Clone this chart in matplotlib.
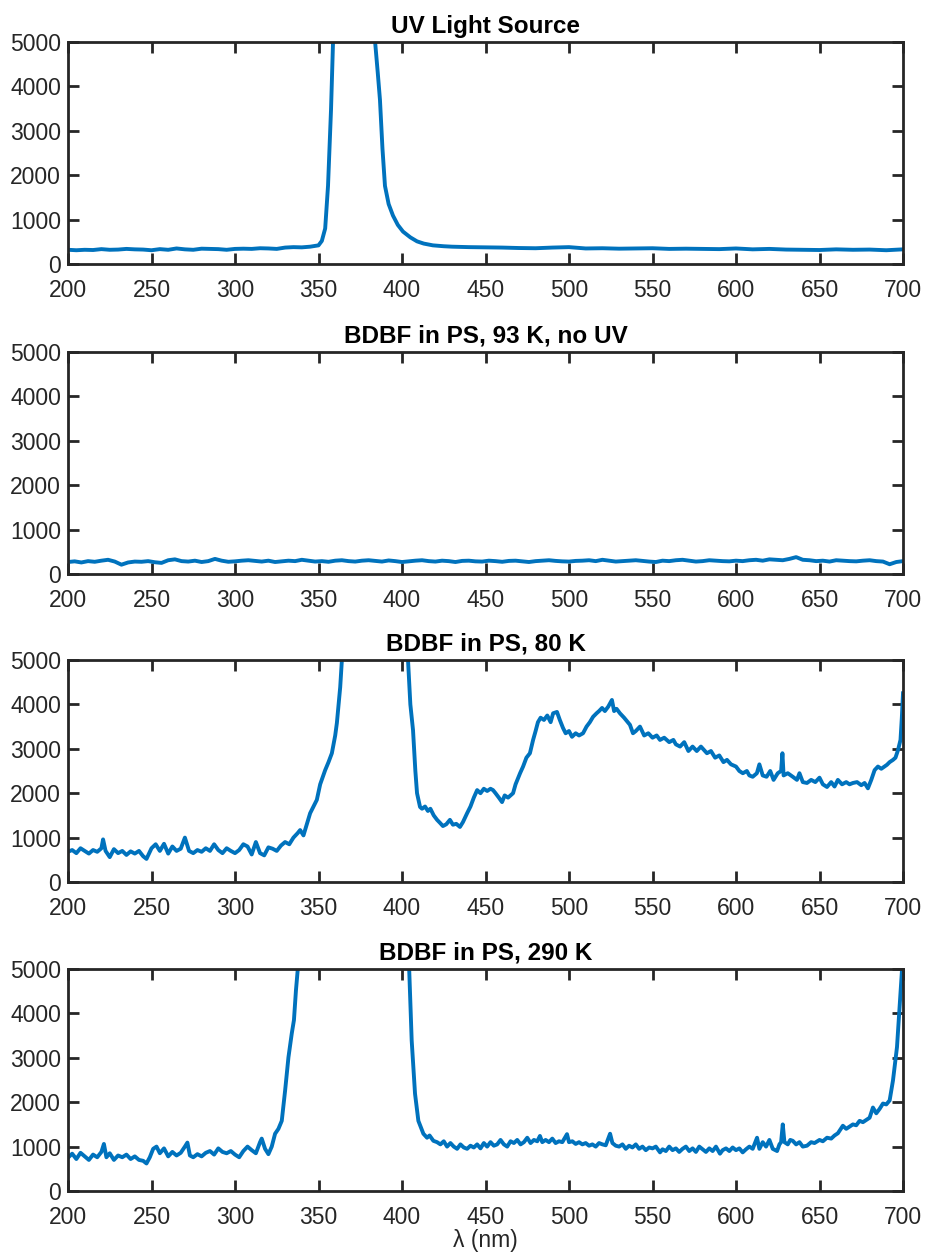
import numpy as np
import matplotlib
matplotlib.use("Agg")
import matplotlib.pyplot as plt

plt.rcParams["font.family"] = ["Liberation Sans", "DejaVu Sans"]

LINE = "#0072BD"
INK = "#262626"

TITLES = [
    "UV Light Source",
    "BDBF in PS, 93 K, no UV",
    "BDBF in PS, 80 K",
    "BDBF in PS, 290 K",
]
X_TICKS = list(range(200, 701, 50))
Y_TICKS = list(range(0, 5001, 1000))

# UV source spectrum, (wavelength nm, counts)
uv_source = [
    (200, 320), (205, 310), (210, 320), (215, 315), (220, 335), (225, 320),
    (230, 325), (235, 340), (240, 330), (245, 325), (250, 310), (255, 335),
    (260, 320), (265, 350), (270, 330), (275, 320), (280, 345), (285, 340),
    (290, 335), (295, 320), (300, 340), (305, 345), (310, 340), (315, 355),
    (320, 350), (325, 340), (330, 370), (335, 380), (340, 375), (345, 390),
    (350, 420), (352, 520), (354, 800), (355.7, 1760), (357.5, 3480),
    (358.7, 5000), (362, 7000), (370, 9000), (378, 8000), (383.9, 5000),
    (385.5, 4300), (386.8, 3700), (388.3, 2600), (389.8, 1760), (392, 1350),
    (394.6, 1090), (397.5, 880), (400.6, 730), (405, 600),
    (409, 510), (413, 460), (418.5, 420), (425, 400), (430, 390), (440, 380),
    (450, 375), (460, 370), (470, 360), (480, 355), (490, 370), (500, 380),
    (510, 350), (520, 355), (530, 345), (540, 350), (550, 355), (560, 340),
    (570, 345), (580, 340), (590, 335), (600, 350), (610, 330), (620, 340),
    (630, 325), (640, 320), (650, 315), (660, 330), (670, 320), (680, 325),
    (690, 310), (700, 330),
]

# 93 K, no UV: evenly spaced samples from 200 to 700 nm
no_uv_counts = [
    270, 285, 260, 290, 275, 300, 320, 280, 210, 260, 280, 275, 290,
    265, 250, 310, 330, 290, 280, 300, 270, 290, 340, 300, 275, 285,
    300, 310, 295, 280, 300, 270, 285, 300, 290, 320, 300, 280, 290,
    275, 300, 310, 290, 280, 300, 310, 295, 280, 305, 290, 270,
    285, 300, 310, 290, 280, 300, 290, 270, 295, 300, 285, 280, 300,
    290, 275, 295, 300, 285, 270, 290, 300, 310, 295, 285, 280,
    295, 300, 310, 290, 320, 300, 280, 290, 300, 310, 295, 280, 270,
    300, 290, 310, 320, 300, 280, 290, 310, 300, 290, 285, 300,
    290, 310, 320, 300, 330, 320, 310, 340, 380, 320, 310, 290, 300,
    280, 310, 300, 290, 285, 300, 310, 290, 280, 220, 270, 290,
]

bdbf_80k = [
    (200, 680), (202.5, 720), (205, 650), (207.5, 760), (210, 700),
    (212.5, 640), (215, 720), (217.5, 680), (220, 760), (221, 960),
    (222.5, 700), (225, 560), (227.5, 740), (230, 650), (232.5, 700),
    (235, 610), (237.5, 690), (240, 640), (242.5, 700), (245, 580),
    (247, 520), (250, 760), (252.5, 850), (255, 700), (257.5, 860),
    (260, 640), (262.5, 800), (265, 700), (267.5, 750), (270, 1000),
    (272.5, 700), (275, 650), (277.5, 720), (280, 680), (282.5, 760),
    (285, 700), (287.5, 850), (290, 720), (292.5, 650), (295, 760),
    (297.5, 700), (300, 650), (302.5, 720), (305, 850), (307.5, 800),
    (310, 620), (312.5, 900), (315, 650), (317.5, 600), (320, 780),
    (322.5, 750), (325, 700), (327.5, 820), (330, 900), (332.5, 850),
    (335, 1000), (337.5, 1100), (339, 1170), (341, 1050), (343, 1300),
    (345, 1550), (347, 1700), (349, 1850), (351, 2200), (354, 2520),
    (356, 2700), (358, 2900), (360, 3300), (361, 3580), (363, 4390),
    (364, 5000), (366, 6500), (380, 9000), (400, 7000), (403.6, 5000),
    (405, 4000), (406.6, 3420), (408, 2500), (409, 2000), (410.8, 1690),
    (412, 1650), (413.8, 1700), (415.5, 1600), (417, 1650), (419, 1500),
    (421, 1400), (422.8, 1330), (424.5, 1260), (426.5, 1300), (428.7, 1400),
    (430.5, 1290), (432.5, 1310), (434.7, 1240), (436.5, 1350), (439, 1550),
    (441, 1700), (443, 1900), (445, 2070), (447, 2000), (449, 2100),
    (451, 2050), (453, 2100), (454.5, 2070), (456, 2000), (458, 1900),
    (459.9, 1800), (461.5, 1950), (463.5, 1900), (466.5, 2000), (468, 2200),
    (470.7, 2450), (472.5, 2600), (474.5, 2800), (476.6, 2900), (478.5, 3200),
    (480, 3400), (481.4, 3600), (483, 3700), (485, 3650), (487, 3750),
    (489, 3600), (490.5, 3800), (492.8, 3830), (494.5, 3650), (496.4, 3470),
    (498, 3350), (500, 3400), (501.8, 3270), (504, 3350), (506, 3300),
    (508.4, 3350), (510.5, 3500), (512.5, 3600), (514.4, 3720), (516.5, 3800),
    (518, 3850), (519.8, 3920), (521.5, 3850), (523.5, 3950), (525.7, 4100),
    (527, 3850), (528.5, 3900), (530.5, 3800), (533, 3700), (536.5, 3540),
    (538.3, 3350), (540, 3400), (542.5, 3500), (545, 3300), (547.5, 3350),
    (550, 3250), (552.5, 3300), (554.5, 3200), (557, 3250), (560, 3150),
    (562.5, 3200), (564, 3100), (566.5, 3050), (569, 3150), (571.5, 2950),
    (574, 3050), (576.5, 2950), (579, 3050), (582.6, 2900), (585, 2950),
    (587.5, 2800), (590, 2850), (592.5, 2700), (594.6, 2750), (597, 2650),
    (600, 2600), (602, 2500), (604.1, 2450), (606.5, 2500), (608, 2400),
    (610, 2370), (612.5, 2450), (614, 2650), (616, 2400), (618.3, 2370),
    (620.5, 2500), (622.5, 2300), (625, 2450), (627, 2500), (627.8, 2900),
    (628.5, 2400), (631, 2450), (634, 2370), (636.5, 2300), (638, 2450),
    (640, 2250), (642.5, 2230), (645, 2300), (647.5, 2250), (650, 2350),
    (652, 2200), (654.5, 2140), (657, 2250), (659, 2150), (661, 2300),
    (663.5, 2200), (666, 2250), (668, 2200), (670, 2230), (672.5, 2250),
    (675, 2180), (677, 2230), (679, 2110), (681, 2300), (683, 2520),
    (685, 2600), (687, 2550), (690.4, 2640), (692, 2700), (694, 2750),
    (695.5, 2800), (697, 2970), (698.5, 3200), (699.3, 3700), (700, 4250),
]

bdbf_290k = [
    (200, 750), (202.5, 840), (205, 720), (207.5, 860), (210, 780),
    (212.5, 700), (215, 820), (217.5, 760), (220, 880), (221.5, 1060),
    (223, 760), (225, 850), (227.5, 700), (230, 800), (232.5, 760),
    (235, 820), (237.5, 720), (240, 780), (242.5, 700), (245, 680),
    (247, 620), (249, 760), (251, 950), (253, 1000), (255, 850),
    (257.5, 960), (260, 780), (262.5, 880), (265, 800), (267.5, 860),
    (270, 1000), (271.5, 1090), (273, 800), (275, 760), (277.5, 830),
    (280, 780), (282.5, 860), (285, 900), (287.5, 820), (290, 960),
    (292.5, 880), (295, 850), (297.5, 900), (300, 820), (302.5, 760),
    (305, 900), (307.5, 1000), (310, 920), (312.5, 850), (315, 1100),
    (316, 1180), (318, 950), (320, 830), (322, 1000), (324, 1290),
    (326, 1400), (328, 1580), (330, 2260), (332, 3010), (334, 3550),
    (335.3, 3850), (336.5, 4520), (337.6, 5000), (340, 7000), (370, 10000),
    (400, 7000), (404.3, 5000), (405.8, 3390), (407.8, 2190), (409.8, 1580),
    (412.8, 1290), (415, 1200), (416.5, 1250), (418.8, 1130), (421, 1100),
    (423, 1050), (425, 1120), (427, 1000), (429, 1080), (431, 1000),
    (433, 950), (435, 1050), (437, 980), (439, 950), (441, 1020),
    (443, 980), (445, 1050), (447, 960), (449, 1080), (451, 1000),
    (453, 1100), (455, 1020), (457, 1050), (459, 1150), (461, 1050),
    (463, 1000), (465, 1120), (467, 1080), (469, 1150), (471, 1050),
    (473, 1100), (475, 1200), (477, 1080), (479, 1150), (481, 1120),
    (482.6, 1240), (484, 1100), (486, 1150), (488, 1100), (490, 1180),
    (492, 1080), (494, 1120), (496, 1100), (498.8, 1280), (500, 1100),
    (502, 1120), (504, 1060), (506, 1100), (508, 1050), (510, 1080),
    (512, 1020), (514, 1050), (516, 1000), (518, 1080), (520, 1050),
    (522, 1030), (524.6, 1290), (526, 1080), (528, 1020), (530, 1000),
    (532, 1050), (534, 950), (536, 1020), (538, 980), (540, 1050),
    (542, 950), (544, 1000), (546, 920), (548, 980), (550, 960),
    (552, 1000), (554.5, 870), (556, 940), (558, 900), (560, 1000),
    (562, 920), (564, 960), (566, 880), (568, 950), (570, 1000),
    (572, 900), (574, 960), (576, 880), (578, 1000), (580, 940),
    (582, 880), (584, 960), (586, 900), (588, 1000), (590.4, 840),
    (592, 920), (594, 960), (596, 900), (598, 980), (600, 920),
    (602, 960), (604, 870), (606, 940), (608, 1000), (610, 950),
    (612.6, 1200), (614, 950), (616, 1100), (618, 1000), (620, 1150),
    (622, 950), (624.6, 900), (626, 1050), (627, 1100), (628, 1500),
    (629, 1100), (631, 1050), (632.5, 1150), (634, 1130), (636, 1050),
    (638, 1100), (640, 1000), (642.5, 1020), (645, 1100), (647, 1080),
    (650, 1150), (652, 1120), (654.5, 1200), (657, 1180), (659, 1250),
    (661, 1300), (664, 1470), (666, 1400), (668, 1450), (670, 1500),
    (672, 1480), (674, 1580), (676, 1550), (678, 1600), (680, 1650),
    (682, 1880), (684, 1750), (686, 1850), (688, 1970), (690, 1950),
    (692, 2040), (694, 2490), (696.4, 3240), (698.2, 4300), (699.4, 4980),
    (700, 5300),
]


def split(pairs):
    arr = np.array(pairs, dtype=float)
    return arr[:, 0], arr[:, 1]


def main() -> None:
    series = [
        split(uv_source),
        (np.linspace(200, 700, len(no_uv_counts)), np.array(no_uv_counts, dtype=float)),
        split(bdbf_80k),
        split(bdbf_290k),
    ]

    fig = plt.figure(figsize=(9.25, 12.58), dpi=100)
    fig.patch.set_facecolor("white")

    W, H = 925, 1258
    left, right = 68, 903
    tops = [42, 352, 660, 969]
    height = 222

    for i, (title, (x, y)) in enumerate(zip(TITLES, series)):
        top = tops[i]
        ax = fig.add_axes([left / W, 1 - (top + height) / H, (right - left) / W, height / H])
        ax.plot(x, y, color=LINE, lw=2.8, solid_joinstyle="round")
        ax.set_xlim(200, 700)
        ax.set_ylim(0, 5000)
        ax.set_xticks(X_TICKS)
        ax.set_yticks(Y_TICKS)
        ax.tick_params(direction="in", length=8, width=2.0, top=True, right=True,
                       labelsize=16.5, colors=INK)
        ax.tick_params(axis="x", pad=10.5)
        ax.tick_params(axis="y", pad=5)
        for spine in ax.spines.values():
            spine.set_linewidth(2.0)
            spine.set_color(INK)
        ax.set_title(title, fontsize=17.5, fontweight="bold", color="black", pad=6.5)
        if i == 3:
            ax.set_xlabel("\u03bb (nm)", fontsize=16.5, color=INK, labelpad=0)

    fig.savefig("out.png", dpi=100, facecolor="white")


if __name__ == "__main__":
    main()
